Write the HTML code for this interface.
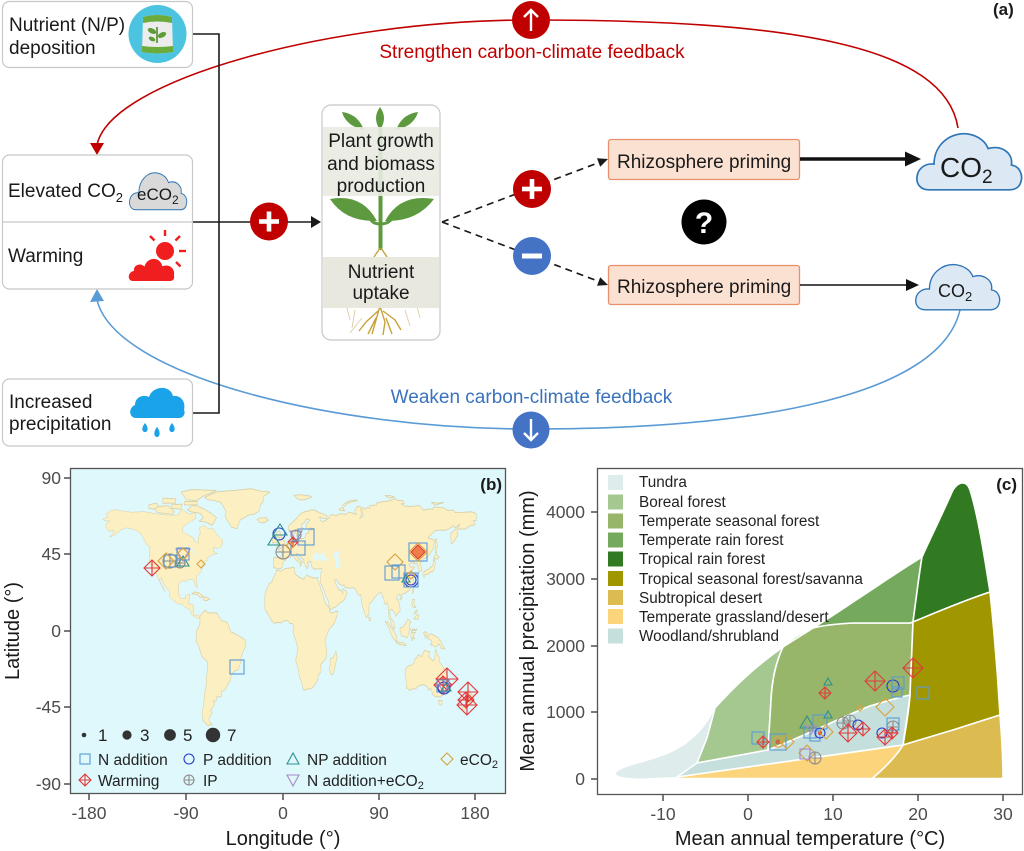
<!DOCTYPE html>
<html><head><meta charset="utf-8"><style>
html,body{margin:0;padding:0;background:#fff}
svg{display:block;font-family:"Liberation Sans",Arial,sans-serif}
.sq,.ci,.tr,.di,.wm,.ip,.dt{fill:none;stroke-width:1.1}
.sq{stroke:#5b9bd5}.ci{stroke:#2639d0}.tr{stroke:#2f8f8f}.di{stroke:#d8a23c}.wm{stroke:#e2393b}.ip{stroke:#8c8c8c}.dt{stroke:#a689c9}
.tk{font-size:17.5px;fill:#4d4d4d}
.lg{font-size:15.5px;fill:#222}
.cl{font-size:15.3px;fill:#222}
</style></head><body>
<svg width="1024" height="851" viewBox="0 0 1024 851" xmlns="http://www.w3.org/2000/svg">
<defs>
<clipPath id="mapclip"><rect x="70.5" y="468.5" width="435" height="325"/></clipPath>
<path id="cloudp" d="M12,60 C4,60 0,54 1,47 C2,39 9,34 17,35 C17,16 33,3 50,6 C60,8 66,14 68,20 C80,16 92,24 90,36 C98,37 101,46 99,52 C98,57 94,60 88,60 Z"/>
</defs>

<!-- ============ PANEL A ============ -->
<!-- feedback curves -->
<path d="M958,128 C945,45 790,20 531,20 C330,20 110,80 97,145" fill="none" stroke="#c00000" stroke-width="1.6"/>
<polygon points="90,143 104,143 97,155" fill="#c00000"/>
<path d="M960,310 C940,395 760,429 531,429 C330,429 115,375 97,300" fill="none" stroke="#5b9bd5" stroke-width="1.6"/>
<polygon points="90,302 104,301 97,289" fill="#5b9bd5"/>

<circle cx="531" cy="20" r="19" fill="#c00000"/>
<path d="M531,31 V10 M524,17 L531,10 L538,17" fill="none" stroke="#fff" stroke-width="2.4"/>
<text x="532" y="58" font-size="19" fill="#c00000" text-anchor="middle">Strengthen carbon-climate feedback</text>
<circle cx="531" cy="430" r="18.5" fill="#4472c4"/>
<path d="M531,419 V440 M524,433 L531,440 L538,433" fill="none" stroke="#fff" stroke-width="2.4"/>
<text x="531.5" y="403" font-size="19" fill="#3a73bd" text-anchor="middle">Weaken carbon-climate feedback</text>

<!-- connectors -->
<polyline points="193,34 219,34 219,413 193,413" fill="none" stroke="#1a1a1a" stroke-width="1.6"/>
<line x1="193" y1="222" x2="313" y2="222" stroke="#1a1a1a" stroke-width="1.6"/>
<polygon points="311,216 321,222 311,228" fill="#1a1a1a"/>
<circle cx="269" cy="221.5" r="19" fill="#c00000"/>
<rect x="259" y="219.2" width="20" height="4.6" fill="#fff"/><rect x="266.7" y="211.5" width="4.6" height="20" fill="#fff"/>

<!-- box 1 -->
<rect x="2.5" y="1.5" width="190" height="66" rx="7" fill="#fff" stroke="#c8c8c8" stroke-width="1.2"/>
<text x="9" y="31" font-size="19" fill="#1a1a1a">Nutrient (N/P)</text>
<text x="9" y="54" font-size="19" fill="#1a1a1a">deposition</text>
<circle cx="157.5" cy="34" r="29" fill="#4cc4e0"/>
<path d="M143,17 Q157,13 172,17 L173,52 Q157,55 142,52 Z" fill="#ececec"/>
<path d="M143,17 Q157,13 172,17 L172,23 Q157,20 143,23 Z" fill="#6bab3c"/>
<path d="M142,46 Q157,48 173,46 L173,52 Q157,55 142,52 Z" fill="#6bab3c"/>
<line x1="157" y1="43" x2="157" y2="27" stroke="#4e8a2c" stroke-width="1.6"/>
<ellipse cx="152" cy="31" rx="4.5" ry="2.5" fill="#5e9c36" transform="rotate(25 152 31)"/>
<ellipse cx="162" cy="35" rx="4.5" ry="2.5" fill="#5e9c36" transform="rotate(-25 162 35)"/>
<ellipse cx="152" cy="39" rx="3.5" ry="2" fill="#5e9c36" transform="rotate(25 152 39)"/>

<!-- box 2 -->
<rect x="2.5" y="155" width="190" height="134" rx="7" fill="#fff" stroke="#c8c8c8" stroke-width="1.2"/>
<line x1="2.5" y1="222" x2="192.5" y2="222" stroke="#c8c8c8" stroke-width="1.2"/>
<text x="8" y="197" font-size="19" fill="#1a1a1a">Elevated CO<tspan font-size="13" dy="5">2</tspan></text>
<use href="#cloudp" transform="translate(129,169) scale(0.58,0.68)" fill="#d9d9d9" stroke="#2e75b6" stroke-width="1.5" vector-effect="non-scaling-stroke"/>
<text x="137" y="200" font-size="17" fill="#1a1a1a">eCO<tspan font-size="12" dy="4">2</tspan></text>
<text x="8" y="262" font-size="19" fill="#1a1a1a">Warming</text>
<!-- sun + cloud -->
<circle cx="165" cy="251" r="9" fill="#f01e1e"/>
<g stroke="#f01e1e" stroke-width="2.4">
<line x1="165" y1="230" x2="165" y2="236"/><line x1="150" y1="236" x2="154.5" y2="240.5"/>
<line x1="180" y1="236" x2="175.5" y2="240.5"/><line x1="179" y1="251" x2="186" y2="251"/>
<line x1="176" y1="262" x2="180.5" y2="266.5"/></g>
<path d="M133,282 C126,282 126,272 133,270 C133,264 140,262 144,265 C147,256 160,255 163,265 C170,263 176,268 175,275 C176,280 173,282 170,282 Z" fill="#f01e1e" stroke="#fff" stroke-width="2"/>

<!-- box 3 -->
<rect x="2.5" y="379" width="190" height="67" rx="7" fill="#fff" stroke="#c8c8c8" stroke-width="1.2"/>
<text x="9" y="408" font-size="19" fill="#1a1a1a">Increased</text>
<text x="9" y="430" font-size="19" fill="#1a1a1a">precipitation</text>
<path d="M136,418 C129,418 128,408 135,405 C135,397 143,394 149,397 C152,386 170,384 173,396 C181,395 186,402 184,410 C186,414 183,418 179,418 Z" fill="#1aa3e8"/>
<path d="M145,423 C149,428 148,432 145,432 C142,432 141,428 145,423 Z M157,427 C161,432 160,437 157,437 C154,437 153,432 157,427 Z M172,423 C176,428 175,432 172,432 C169,432 168,428 172,423 Z" fill="#1aa3e8"/>

<!-- plant box -->
<rect x="322" y="105" width="118" height="235" rx="9" fill="#fff" stroke="#c8c8c8" stroke-width="1.2"/>
<g fill="#5d9a3f">
<path d="M364,130 Q346,126 342,112 Q358,114 364,130 Z"/>
<path d="M380,130 Q372,118 380,107 Q388,118 380,130 Z"/>
<path d="M396,130 Q414,126 418,112 Q402,114 396,130 Z"/>
<path d="M377,221 Q345,222 330,199 Q362,193 377,221 Z"/>
<path d="M385,221 Q417,222 434,199 Q400,193 385,221 Z"/>
<rect x="378.5" y="128" width="4" height="122"/>
</g>
<path d="M368,213 Q370,224 380,224 Q392,224 394,213" fill="none" stroke="#5d9a3f" stroke-width="3"/>
<g stroke="#c8a23a" stroke-width="1.4" fill="none">
<path d="M380,248 L374,257 M381,248 L387,257"/>
<path d="M380,306 L376,320 L372,334 M380,306 L385,322 L383,335 M378,311 L366,322 L359,331 M383,311 L395,320 L401,330 M376,318 L368,334 M386,318 L392,334"/>
</g>
<g stroke="#d8c89a" stroke-width="0.8" fill="none">
<path d="M345,300 L350,320 M415,298 L420,318 M355,310 L352,328 M405,310 L410,326 M362,318 L350,333"/>
</g>
<rect x="323" y="127" width="116" height="69" fill="#e9ebe2" fill-opacity="0.9"/>
<rect x="323" y="257" width="116" height="51" fill="#e7e7dd" fill-opacity="0.95"/>
<g font-size="19" fill="#1a1a1a" text-anchor="middle">
<text x="381" y="147">Plant growth</text>
<text x="381" y="170">and biomass</text>
<text x="381" y="192">production</text>
<text x="381" y="278">Nutrient</text>
<text x="381" y="299">uptake</text>
</g>

<!-- dashed branches -->
<line x1="442" y1="222" x2="599" y2="162.5" stroke="#1a1a1a" stroke-width="1.7" stroke-dasharray="7,5"/>
<polygon points="608,159 597,158.3 600.2,166.7" fill="#1a1a1a"/>
<line x1="442" y1="222" x2="599" y2="281.5" stroke="#1a1a1a" stroke-width="1.7" stroke-dasharray="7,5"/>
<polygon points="608,285 597,285.7 600.2,277.3" fill="#1a1a1a"/>
<circle cx="532" cy="189" r="19" fill="#c00000"/>
<rect x="522" y="186.7" width="20" height="4.6" fill="#fff"/><rect x="529.7" y="179" width="4.6" height="20" fill="#fff"/>
<circle cx="532" cy="256" r="19" fill="#4472c4"/>
<rect x="522" y="253.5" width="20" height="5" fill="#fff"/>

<!-- rhizosphere boxes -->
<rect x="608.5" y="139.5" width="191" height="40" rx="2.5" fill="#fbe1d2" stroke="#e8906a" stroke-width="1.3"/>
<text x="617" y="168" font-size="19" fill="#1a1a1a">Rhizosphere priming</text>
<rect x="608.5" y="265.5" width="191" height="39" rx="2.5" fill="#fbe1d2" stroke="#e8906a" stroke-width="1.3"/>
<text x="617" y="293" font-size="19" fill="#1a1a1a">Rhizosphere priming</text>

<line x1="800" y1="159" x2="908" y2="159" stroke="#111" stroke-width="3.4"/>
<polygon points="905,151.5 921,159 905,166.5" fill="#111"/>
<line x1="800" y1="285" x2="910" y2="285" stroke="#111" stroke-width="1.5"/>
<polygon points="906,279 919,285 906,291" fill="#111"/>

<circle cx="704" cy="222" r="22.5" fill="#000"/>
<text x="704" y="233" font-size="30" font-weight="bold" fill="#fff" text-anchor="middle">?</text>

<!-- CO2 clouds -->
<use href="#cloudp" transform="translate(916,128) scale(1.06,1.03)" fill="#dce9f5" stroke="#2e75b6" stroke-width="1.6" vector-effect="non-scaling-stroke"/>
<text x="940" y="177" font-size="28" fill="#1a1a1a">CO<tspan font-size="19" dy="6">2</tspan></text>
<use href="#cloudp" transform="translate(915,260) scale(0.85,0.83)" fill="#dce9f5" stroke="#2e75b6" stroke-width="1.6" vector-effect="non-scaling-stroke"/>
<text x="938" y="297" font-size="18" fill="#1a1a1a">CO<tspan font-size="13" dy="4">2</tspan></text>

<text x="993" y="15" font-size="17" font-weight="bold" fill="#1a1a1a">(a)</text>

<!-- ============ PANEL B ============ -->
<rect x="70.5" y="468.5" width="435" height="325" fill="#dff8fb"/>
<g clip-path="url(#mapclip)">
<g transform="translate(283,631) scale(1.0733,-1.7044)" fill="#fcefc2" stroke="#d8cfa6" stroke-width="0.5" vector-effect="non-scaling-stroke">
<polygon vector-effect="non-scaling-stroke" points="-168,65.5 -163,67 -165,68.5 -161,70.5 -156,71.3 -150,70.4 -141,69.7 -130,70 -124,69.5 -115,68.5 -108,68 -98,68 -94,71.5 -88,68.5 -82,69.5 -81,66 -87,64 -93,61 -94,58.5 -90,57 -84,55 -82,52.5 -79,51.5 -79,55 -77,57.5 -78,60.5 -73,62 -70,60 -65,60 -62,57 -56,53 -57,50 -60,48.5 -65,49 -64,46 -61,45.5 -66,44.5 -70,43.5 -70,41.6 -74,40.6 -75,38.5 -76,35 -80,32.5 -81,30 -80,27 -80,25.3 -82,27 -83,29.8 -86,30.3 -89,30.2 -90,29 -94,29.6 -97,27.6 -97.5,24 -97,21 -95,19 -91,18.8 -90.5,21 -87,21.5 -87.5,18 -88.5,15.8 -84,15.8 -83.3,12 -83.8,10.8 -82,9 -79.5,9.5 -77.5,8.5 -77.4,7 -78.5,8 -80.4,7.3 -81.8,8.2 -85.8,10 -85.6,11.2 -87.5,13 -91.5,14 -94,16 -96.5,15.7 -100,16.7 -105.5,20 -105.5,23 -109,25.5 -112,28.5 -113,31.3 -114.7,30.5 -114.5,28 -112,26 -110,23 -111.5,24.5 -114,28 -115.5,29.6 -117.2,32.6 -118.5,34 -121,35 -122.5,37.5 -124,40.5 -124.2,43 -124,46.5 -124.7,48.4 -123,49 -127,50.5 -130,54.5 -133,57.5 -137,59 -140,59.8 -146,60.5 -151,59.5 -154,57.5 -158,56 -162,55 -158,57.5 -157.5,59 -162,58.5 -164.8,60.5 -165,62.5 -164,63.5 -161,64.5 -166,64.7"/>
<polygon points="-80,73.5 -72,71 -67,69 -62,66.5 -64,64 -66,62 -72,64 -78,64.5 -74,66.5 -77,69 -86,70 -89,71 -85,73.5"/>
<polygon points="-117,69.5 -103,68.5 -101,70 -107,73.5 -118,73 -119,71"/>
<polygon points="-90,77 -80,76.5 -75,79 -65,81.5 -62,82.5 -85,83 -95,81.5 -92,79"/>
<polygon points="-125,72 -120,71.5 -116,73 -118,75 -125,74"/>
<polygon points="-92,74 -80,74 -80,76 -92,76"/>
<polygon points="-104,72 -95,71.5 -94,74.5 -104,74"/>
<polygon points="-112,75 -100,75 -100,77.5 -112,78"/>
<polygon points="-73,78.5 -66,80.5 -60,81.8 -45,82.5 -30,83.5 -20,82 -12,81.5 -18,79 -18,76.5 -21,74 -22,70.5 -27,68.5 -32,68 -40,65 -43,60 -48,61 -51,64 -54,67 -53,70 -55,72.5 -58,75.5 -64,76.5 -70,77"/>
<polygon points="-24,65.5 -22,66.3 -16,66.5 -13.5,65 -18,63.4 -22,63.8"/>
<polygon points="-85,21.8 -82,23 -78,22.3 -74.2,20.2 -77.5,19.8 -80,21.5"/>
<polygon points="-74.4,19.8 -71,19.9 -68.4,18.6 -71.5,17.7 -74.4,18.3"/>
<polygon points="-77.4,8.6 -75.5,10.5 -72,12.3 -71.3,11 -68,10.5 -63,10.7 -61,10.3 -60,8.5 -57,6 -53,5.5 -51,4 -50,1.8 -48.5,-0.5 -45,-1.5 -41,-3 -38.5,-3.8 -35.2,-5.5 -35,-9 -37.5,-12.5 -39,-15 -39.3,-18 -40.5,-20.5 -42,-22.9 -44.6,-23.3 -48.3,-25.5 -48.7,-28.5 -51,-31 -53.5,-34 -55,-35 -57.3,-35.5 -57.5,-38.5 -62,-38.8 -62.3,-41 -65,-41.2 -63.5,-42.5 -65.5,-45 -67.5,-46.5 -66,-48 -68.5,-50.5 -69,-52 -68.3,-53.5 -66,-54.8 -68.5,-55.5 -71,-55 -74.5,-52.5 -75.5,-48 -74,-44 -73.5,-40 -73.2,-37 -71.5,-32 -71.4,-28 -70.5,-23 -70.2,-18.3 -72,-17 -75.5,-15 -77.5,-11 -79.5,-7.5 -81.2,-6 -80.3,-3.4 -80.9,-1 -80,1 -78.8,1.8 -77.5,4 -77.3,7"/>
<polygon points="-17,21 -17,14.7 -16.6,12 -15,11 -13.2,8.9 -11.4,6.8 -8,4.4 -5,5.1 -2,4.8 2,6.2 5,5.8 6.5,4.3 8.5,4.5 9.8,3 9.5,1 9.3,-1 11,-3.7 12.2,-6 13.2,-9 13.5,-12.5 11.8,-17 14.4,-22.8 15.2,-26.8 16.7,-28.8 18.4,-32.5 18.4,-34 20,-34.8 22.5,-34 25.7,-34 28,-32.7 30.2,-31 32.5,-28.6 32.7,-26 35.2,-24 35.6,-22 34.8,-19.8 36.5,-18.7 39.5,-16.5 40.6,-14.5 40.6,-10.5 39.3,-7 39.2,-4.7 40.9,-2.5 42,-0.3 44,1.8 46,3 48,4.8 49.8,8 51.1,11.8 48.5,11.3 45,10.5 43.3,11.8 42.8,14 40,15.7 38.5,18 37.3,21 36.6,22.5 35.5,24 34.5,26.5 33.8,27.5 32.4,30 32.3,31.3 29.5,31 25,31.8 22,32.8 20,31 19,30.3 15.5,31.5 11.5,33.2 10.8,35 11,37 9.5,37.3 7,37 4,36.8 1,36.3 -1.5,35.2 -2.2,35.1 -5.9,35.8 -6.5,34 -9.6,30.5 -10,29 -13,27.6 -14.5,25.2 -16,23.5"/>
<polygon points="44,-25 45.3,-25.6 47,-25 48.8,-20 50,-16 50.5,-15.2 49.3,-12 48,-13.5 47,-15.5 44.3,-16.2 44,-19 43.4,-22"/>
<polygon points="-9,37 -9,43 -2,43.4 -1.2,46 -4.5,48 -1.5,48.8 1.5,50.5 4,51.5 5,53 8.5,53.6 8.5,55.5 8,57 10.5,57.6 10,55 11,54 14,54 19.7,54.4 21,55.3 21,57 23,57.5 24.5,57.5 23.5,59 28,59.5 29.5,60.2 26,60.4 23,59.8 21.5,60.7 21.5,62.5 25,65 22,65.8 19.8,63.6 17.5,62.5 17,61 18.8,60.1 16.8,58.7 16.4,57 14.5,56 13,55.4 12,57.5 11,59 8.5,58.2 5.5,58.6 5,61.5 8.5,63.5 12.5,66 15,68 19,69.8 23,70.3 26,71 28.5,71 31.3,70.5 33.8,69.3 37,69 41,67.5 41,66 38,66 34,66.8 35,65 37,64 40,65 43,66.5 44,68 46,68.3 49,67.7 54,68.9 59,68.4 61,69.8 65,69.2 68.5,68.2 67,69.5 67,71 69,73 72.5,72.8 72.5,70.5 73.5,68.5 71.5,66.3 74,67 75,68 74,69.2 74,70.5 73,71.5 75,72.5 76,71.2 78,72.4 81,72 80.5,73.5 87,74 87,75 92,75.8 99,76.4 104.5,77.7 107,76.6 112,76.6 113,75 110,74.5 113.5,73.3 119,73.1 127,73.6 129,72.5 131,70.8 136,71.6 140,71.5 140,72.8 150,72.2 153,70.8 159,70.9 160.5,69.5 168,69.6 170.5,69.8 176,69.9 180,68.9 180,65 177.5,64.6 179,62.3 174.5,61.8 170.3,59.9 166,59.8 163.5,59.9 162,58 163,56 161.7,55.3 160,53.2 158,51.5 156.8,51 156,57 160,59.3 163.7,61.1 164.5,62.6 160,60.5 159,61.8 154.2,59.8 151,59 148.5,59.2 142.2,59 138.9,57.1 135.1,54.7 138.5,54 141.3,53.1 140.5,50 140.1,48.4 138,46.3 135.5,44 133,42.8 130.8,42.3 129.7,40.9 128,40 127.5,39.3 129.2,37.4 129.5,35.6 128,35 126.5,34.4 126.6,35.7 126.2,37.7 125,38.5 125,39.5 124.3,39.9 122,39 121.4,39.8 122.2,40.4 121,40.8 119.5,39.9 118,39.2 117.5,38.7 119,37.4 120.8,37.9 122.5,37.3 119.7,35.6 120.2,34.4 121.5,32 121.9,30.9 121.5,30.1 122,29.8 121,28 119.6,25.7 117.3,23.6 114.8,22.7 113.2,22.1 110.8,21.4 110.4,20.3 109.6,21 108,21.6 106.5,20.5 105.7,19 107.4,18 108.7,15.3 109.2,11.7 107.2,10.4 105.2,8.6 104.8,10 103,11.2 102.3,12.3 100.9,12.8 100,12.3 99.2,10.9 99.9,9.2 100.5,7.4 102.2,6.2 103.4,4.9 103.5,2.8 104.2,1.6 103.5,1.2 101.4,2.8 100.4,5.3 99.7,6.8 98.5,8.4 98.3,9.9 98.7,11.4 98.2,13.6 97.7,15.5 97.2,16.9 95.4,15.7 94.2,16 94.3,18.2 93.1,19.9 92,21.7 91.4,22.8 90.5,22.8 89.5,21.9 88.2,21.7 87,20.8 85.1,19.5 83.9,18.3 82.2,16.8 80.3,15.9 80.2,13.8 79.9,10.4 79.2,9.2 77.5,8 76.1,10.3 74.8,12.8 73.5,16 72.8,19.2 72.6,21.4 70.5,20.9 69.2,22.1 68.2,23.7 67,24.7 66.4,25.4 61.5,25.1 57.4,25.7 57,27 55.7,27 54.7,26.5 52.5,27.6 50.9,28.8 50.1,30.1 48.6,29.9 48.2,29.5 48.8,27.7 50.1,26.7 50.5,25.3 51.6,25.2 51.8,24 54,24.1 55.7,22 55.9,24.9 56.8,24.2 58.7,23.6 59.8,22.5 58.5,20.4 57.7,19 56.5,18 55.3,17.3 52.3,16.2 51.2,15.2 48.7,14 45.9,13.3 45,12.8 43.5,12.6 43,14.5 42.7,15.7 42.3,17.3 41,19.3 39.2,21.5 38.5,23.7 37.2,25 35.6,27.4 34.7,28.5 34.9,29.5 34.6,31.5 35.1,33.1 35.9,35.4 36,36.6 34.7,36.8 32.5,36.1 30.6,36.7 29.7,36.1 27.6,37 26.3,38.2 26.2,40.1 26,40.9 23.7,40.7 23.3,39.96 22.6,40.3 23.4,39.2 24,38.2 23.1,37.9 22.8,37.3 22.5,36.4 21.3,37.6 20.2,39.3 19.4,40.3 19.5,41.7 17.5,42.8 16,43.5 15,44.5 14.3,45.2 13.7,45.5 12.3,45.4 12.4,44.6 13.5,43.6 14,42.8 15.1,41.96 16.2,41.7 17.5,40.9 18.5,40.2 17.7,40.3 16.5,39.8 17.1,38.9 16.1,38 15.7,38 16.1,39 15.7,40 14.1,40.8 12.1,41.7 10.5,42.9 10.2,43.9 8.9,44.4 7.4,43.7 6.5,43.1 4.6,43.4 3.1,43.1 3,41.9 0.8,41 0.1,40.1 -0.3,39.3 -0.7,37.6 -2.1,36.7 -4.4,36.7 -5.4,35.9 -6.5,36.9 -7.5,37.1"/>
<polygon points="79.7,8 81.8,7.5 81.5,6.2 80.3,6"/>
<polygon points="130.2,33.5 131.5,31.3 131.9,33 135,33.5 135.8,33.5 137,34.6 139,34.8 140.8,35.7 141,37.9 141.9,39.2 141.4,41.3 140,40.8 139.8,39 138.8,37.8 136.8,37.2 136.5,36.5 133,35.5 131,34.4"/>
<polygon points="140,41.5 141.5,42.5 143.5,42 145.5,43.3 144,44.2 141.9,45.4 141.2,43.3 140.4,43.2"/>
<polygon points="120.2,22.8 121,22 121.9,25 121.5,25.3 120.7,24.5"/>
<polygon points="108.7,19 109.5,18.2 111,19.7 110.2,20.1"/>
<polygon points="120.5,18.5 122.3,18.5 122,16 124,13.7 121.8,13.9 120.6,14.4 120,16"/>
<polygon points="122,7 126,7 126.5,9 125.3,9.8 123.5,8.6"/>
<polygon points="122,10 125,11 125,12.5 123,11.5"/>
<polygon points="109,1.5 109.7,2 111,2 113,3.2 115,5 116.2,6.9 117.6,6.4 119,5.1 118.4,4.8 118,3.3 117.9,1.8 119,1 117.5,0.4 117,-1 116.5,-2.5 116,-3.8 114.8,-4 113.8,-3.4 111.7,-3 110.2,-2.9 110,-1.5 109.1,0"/>
<polygon points="95.3,5.5 97.5,5.2 100.6,2.1 103,0.5 104,-1 106,-3.1 106,-5.9 104.7,-5.9 102.6,-4.2 101.4,-2.8 100.1,-0.7 98.6,1.8 97.7,2.5"/>
<polygon points="105.4,-6.9 106.4,-6 108.6,-6.8 110.5,-6.9 112.6,-6.9 114.5,-7.8 114.6,-8.8 113.5,-8.4 110.6,-8.1 108.3,-7.8 106.5,-7.4"/>
<polygon points="120.9,1.3 124.4,0.4 125,1.6 123.6,0.2 121,0.5 120.2,0 120,-1 121.5,-1 123.2,-0.9 121.5,-2 122.5,-4.5 121.5,-4.6 120.9,-3.6 120.4,-5.5 119.4,-5.4 119.5,-3.5 118.8,-2.7 119.8,0.1"/>
<polygon points="131,-1 132.5,-0.4 134,-0.8 135,-3.4 137.4,-1.5 141,-2.6 144.6,-3.9 146,-5.5 147.6,-6.1 147.9,-8 150.8,-10.3 150,-10.6 147,-10 146,-8 144.7,-7.6 143,-9.3 141,-9.1 139.1,-8.1 138,-8.4 137.6,-7.6 138.9,-6.8 138.1,-5.4 135.2,-4.5 133.7,-3.5 132.8,-4.1 132,-2.8 133.1,-2.5 132.2,-2.2 131,-1.5"/>
<polygon points="114.2,-22 113.6,-24.5 114.2,-26.3 114.9,-29.5 115,-33.5 115.7,-33.3 118,-35 120,-34 123.7,-33.9 126,-32.3 129.5,-31.6 131.3,-31.5 134.2,-32.6 135.9,-34.9 137.5,-33.6 138.2,-34.4 139.6,-37.3 140.6,-38 143.2,-38.8 144.5,-38.1 146.3,-39 147.4,-38.2 150,-37.4 150.8,-35 151.8,-33 153.1,-31 153.6,-28.5 153.1,-26 151.6,-24 150.7,-22.4 149.1,-21.2 148,-19.9 146.4,-19 145.6,-16.8 145.3,-15 143.6,-14 143.5,-12.8 142.5,-10.7 141.6,-12.9 141.7,-15 141.1,-16.8 139.3,-17.4 137.7,-16.2 135.5,-14.7 136.3,-13.3 136.8,-12 134.7,-11.9 132.6,-11.6 131.8,-11.3 130.2,-13.1 129.4,-14.9 128,-14.7 126.9,-13.8 125.2,-14.7 124.4,-16 123,-16.4 122.2,-18.2 121,-19.5 118.8,-20.3 116.7,-20.6 114.6,-21.8"/>
<polygon points="144.7,-40.7 148.3,-40.9 148,-43 146.9,-43.6 145.4,-42.7"/>
<polygon points="172.6,-34.5 174.3,-35.3 175.8,-37.6 178.3,-37.6 177.4,-39 176,-41.3 174.6,-41.3 175.2,-40.5 174.6,-39.8 173.9,-39.5 174.6,-38.8 174.7,-37.5 174.3,-36.7"/>
<polygon points="172.8,-40.5 174.3,-41.3 173.8,-42.8 172.7,-43.5 171,-44.9 169.3,-46.6 167,-46.2 166.7,-45.1 168.3,-44.1 170.6,-42.9 171.6,-41.7"/>
<polygon points="-5.7,50 1.3,51 1.7,52.8 0.2,53.4 -0.4,54.5 -1.7,55.5 -2,56 -3.1,58.7 -5,58.6 -6.2,56.8 -5.6,55.3 -3,54.9 -3.6,54.6 -3.4,53.7 -4.7,53.3 -4.1,51.6 -5.3,51.6"/>
<polygon points="-6.2,53.9 -6,52.2 -9.7,51.5 -10,53.5 -8.3,55.1 -6.2,55.3"/>
<polygon points="10.4,79.6 16.6,80 22,79.4 25,79.3 26.6,78.5 22.5,77.5 18,76.9 14.5,77.2 12.5,78"/>
<polygon points="52,71.5 55.5,72.4 55.6,74 61.4,76.3 68,76.9 68.9,76.5 60,75 57,73 56,71.4 58,70.5 53,70.8"/>
<polygon points="142,46 143.5,46.2 143.2,49 144,49.5 143,53.5 142.5,54.3 141.7,53.3 142,51 141.6,48"/>
<polygon points="95,79.5 100,79.5 104,78.5 99,78"/>
<polygon points="138,75.5 145,75 150,75.5 142,73.8"/>
</g>
<g transform="translate(283,631) scale(1.0733,-1.7044)" fill="#dff8fb" stroke="none">
<polygon points="28,41.3 28,43.5 29.7,45.5 31,46.6 33.5,44.5 36,45.2 38,47 39.5,47 37.5,44.7 40,43.5 41.5,41.5 38,40.9 35,42 33,42 31,41.2"/>
<polygon points="47,45 49,46.5 53,46.8 53,45 51,44.5 52.5,41.8 53,40 53.8,37.5 51,36.7 49,37.6 49.5,40.3 48.5,41.8 47.5,43"/>
<polygon points="-88,48 -84,46.5 -80,43.5 -79,43.8 -82,45.5 -84,48.5"/>
</g>

<!-- map markers -->
<path class="wm" d="M152,560L160,568L152,576L144,568ZM152,560V576M144,568H160"/>
<circle class="ip" cx="170" cy="561" r="7"/><path class="ip" d="M163,561H177M170,554V568"/>
<rect class="sq" x="164" y="555" width="12" height="12"/>
<path class="di" d="M166,553L174,561L166,569L158,561Z"/>
<circle class="ip" cx="180" cy="563" r="5"/><path class="ip" d="M175,563H185M180,558V568"/>
<path class="tr" d="M183,556L189,566L177,566Z"/>
<path class="dt" d="M176,549L190,549L183,561Z"/>
<rect class="sq" x="177" y="548" width="12" height="12"/>
<path class="di" d="M183,548L189,554L183,560L177,554Z"/>
<path class="di" d="M201,560L205,564L201,568L197,564Z"/>
<circle class="ci" cx="279" cy="534" r="6"/>
<path class="tr" d="M280,524L287,535L273,535Z"/>
<path class="tr" d="M274,535L280,545L268,545Z"/>
<path class="dt" d="M290,531L302,531L296,541Z"/>
<circle class="ip" cx="296" cy="535" r="5"/>
<rect class="sq" x="298" y="529" width="16" height="16"/>
<path class="wm" d="M293,537L298,542L293,547L288,542ZM293,537V547M288,542H298"/>
<rect class="sq" x="291" y="541" width="14" height="14"/>
<circle class="ip" cx="283" cy="552" r="7"/><path class="ip" d="M276,552H290M283,545V559"/>
<path class="di" d="M290,542L294,546L290,550L286,546Z"/>
<rect class="sq" x="409" y="543" width="18" height="18"/>
<path class="di" d="M418,543L427,552L418,561L409,552Z"/>
<path d="M418,545L425,552L418,559L411,552Z" fill="#e8602c" fill-opacity=".8" stroke="#e2393b"/>
<path class="di" d="M395,554L403,562L395,570L387,562Z"/>
<rect class="sq" x="385" y="566" width="14" height="14"/>
<rect class="sq" x="392" y="565" width="13" height="13"/>
<circle class="ci" cx="411" cy="580" r="7"/>
<circle class="ci" cx="411" cy="580" r="5"/>
<rect class="sq" x="404" y="573" width="14" height="14"/>
<path class="tr" d="M406,575L410,582L402,582Z"/>
<path class="di" d="M411,571L415,575L411,579L407,575Z"/>
<rect class="sq" x="230" y="660" width="14" height="14"/>
<path class="wm" d="M447,668L458,679L447,690L436,679ZM447,668V690M436,679H458"/>
<path class="wm" d="M443,676L452,685L443,694L434,685ZM443,676V694M434,685H452"/>
<rect class="sq" x="437" y="680" width="12" height="12"/>
<circle class="ci" cx="444" cy="688" r="6"/>
<path class="dt" d="M438,684L450,684L444,692Z"/>
<path class="tr" d="M446,683L451,691L441,691Z"/>
<path class="wm" d="M468,682L478,692L468,702L458,692ZM468,682V702M458,692H478"/>
<path class="wm" d="M466,692L474,700L466,708L458,700ZM466,692V708M458,700H474"/>
<path class="wm" d="M467,695L477,705L467,715L457,705ZM467,695V715M457,705H477"/>

<!-- map legend -->
<circle cx="84" cy="735" r="2.3" fill="#333"/><text x="98" y="741" font-size="17" fill="#222">1</text>
<circle cx="127" cy="735" r="4.6" fill="#333"/><text x="140" y="741" font-size="17" fill="#222">3</text>
<circle cx="170" cy="735" r="5.9" fill="#333"/><text x="183" y="741" font-size="17" fill="#222">5</text>
<circle cx="213" cy="735" r="7.2" fill="#333"/><text x="227" y="741" font-size="17" fill="#222">7</text>
<rect class="sq" x="80" y="754" width="10" height="10"/><text class="lg" x="98" y="765">N addition</text>
<circle class="ci" cx="189" cy="759" r="5"/><text class="lg" x="203" y="765">P addition</text>
<path class="tr" d="M293,753L299,764L287,764Z"/><text class="lg" x="307" y="765">NP addition</text>
<path class="di" d="M447,753L453,759L447,765L441,759Z"/><text class="lg" x="460" y="765">eCO<tspan font-size="11" dy="3">2</tspan></text>
<path class="wm" d="M85,774L91,780L85,786L79,780ZM85,774V786M79,780H91"/><text class="lg" x="98" y="786">Warming</text>
<circle class="ip" cx="189" cy="780" r="5"/><path class="ip" d="M184,780H194M189,775V785"/><text class="lg" x="203" y="786">IP</text>
<path class="dt" d="M287,775L299,775L293,786Z"/><text class="lg" x="307" y="786">N addition+eCO<tspan font-size="11" dy="3">2</tspan></text>
</g>
<rect x="70.5" y="468.5" width="435" height="325" fill="none" stroke="#555" stroke-width="1.3"/>
<text x="502" y="490" font-size="17" font-weight="bold" fill="#1a1a1a" text-anchor="end">(b)</text>

<!-- b axes -->
<g stroke="#333" stroke-width="1.3">
<line x1="64" y1="478" x2="70" y2="478"/><line x1="64" y1="554" x2="70" y2="554"/><line x1="64" y1="631" x2="70" y2="631"/><line x1="64" y1="707" x2="70" y2="707"/><line x1="64" y1="784" x2="70" y2="784"/>
<line x1="89" y1="794" x2="89" y2="800"/><line x1="186" y1="794" x2="186" y2="800"/><line x1="283" y1="794" x2="283" y2="800"/><line x1="379" y1="794" x2="379" y2="800"/><line x1="475" y1="794" x2="475" y2="800"/>
</g>
<g class="tk" text-anchor="end">
<text class="tk" x="61" y="484">90</text><text class="tk" x="61" y="560">45</text><text class="tk" x="61" y="637">0</text><text class="tk" x="61" y="713">-45</text><text class="tk" x="61" y="790">-90</text>
</g>
<g text-anchor="middle">
<text class="tk" x="89" y="819">-180</text><text class="tk" x="186" y="819">-90</text><text class="tk" x="283" y="819">0</text><text class="tk" x="379" y="819">90</text><text class="tk" x="475" y="819">180</text>
</g>
<text x="283" y="845" font-size="20" fill="#1a1a1a" text-anchor="middle">Longitude (°)</text>
<text transform="translate(19,631) rotate(-90)" font-size="20" fill="#1a1a1a" text-anchor="middle">Latitude (°)</text>

<!-- ============ PANEL C ============ -->
<rect x="597.5" y="468.5" width="425" height="326" fill="#fff"/>
<path d="M617,772 C622,766 650,762 672,752 C692,742 706,728 715,708 L707,738 L697,763 L677,777 L640,778.5 C625,778.5 612,776 617,772 Z" fill="#dfecec"/>
<g stroke="#fff" stroke-width="1.6" stroke-linejoin="round">
<path d="M715,708 C733,688 753,668 783,647 C776,662 772,680 771,700 L768,750 L697,763 L707,738 Z" fill="#a5c790"/>
<path d="M783,647 C790,640 800,633 813,628 C820,626 835,624 853,623 L910,623 L913,622 C912,645 911,670 910,695 C900,697 890,700 870,706 C840,718 800,738 768,750 L771,700 C772,680 776,662 783,647 Z" fill="#97b669"/>
<path d="M783,647 C800,636 830,618 853,602 C875,588 900,570 922,557 C919,575 916,600 913,622 L910,623 L853,623 C835,624 820,626 813,628 C800,633 790,640 783,647 Z" fill="#75a95e"/>
<path d="M913,622 C916,600 919,575 922,557 C928,543 942,515 952,492 C956,483 966,478 970,490 C978,515 985,560 990,592 C960,602 930,615 913,622 Z" fill="#317a22"/>
<path d="M903,745 C906,728 909,710 910,695 C911,670 912,645 913,622 C930,615 960,602 990,592 C994,630 998,680 1000,715 L953,730 Z" fill="#a09700"/>
<path d="M872,778.5 C885,768 897,755 903,745 L953,730 L1000,715 C1002,740 1003,760 1003,778.5 Z" fill="#dcbb50"/>
<path d="M677,777 L903,745 C897,755 885,768 872,778.5 L677,778.5 Z" fill="#fbd47c"/>
<path d="M677,777 L697,763 L768,750 C800,738 840,718 870,706 C890,700 900,697 910,695 C908,712 905,730 903,745 Z" fill="#c5dfdd"/>
</g>

<!-- c legend -->
<rect x="608" y="475" width="15" height="15" fill="#dfecec"/><text class="cl" x="639" y="487">Tundra</text>
<rect x="608" y="494.5" width="15" height="15" fill="#a5c790"/><text class="cl" x="639" y="507">Boreal forest</text>
<rect x="608" y="513.5" width="15" height="15" fill="#97b669"/><text class="cl" x="639" y="526">Temperate seasonal forest</text>
<rect x="608" y="532.5" width="15" height="15" fill="#75a95e"/><text class="cl" x="639" y="545">Temperate rain forest</text>
<rect x="608" y="551.5" width="15" height="15" fill="#317a22"/><text class="cl" x="639" y="564">Tropical rain forest</text>
<rect x="608" y="571" width="15" height="15" fill="#a09700"/><text class="cl" x="639" y="584">Tropical seasonal forest/savanna</text>
<rect x="608" y="590" width="15" height="15" fill="#dcbb50"/><text class="cl" x="639" y="603">Subtropical desert</text>
<rect x="608" y="609" width="15" height="15" fill="#fbd47c"/><text class="cl" x="639" y="622">Temperate grassland/desert</text>
<rect x="608" y="628.5" width="15" height="15" fill="#c5dfdd"/><text class="cl" x="639" y="641">Woodland/shrubland</text>

<!-- c markers -->
<path class="wm" d="M913,658L923,668L913,678L903,668ZM913,658V678M903,668H923"/>
<path class="wm" d="M875,671L885,681L875,691L865,681ZM875,671V691M865,681H885"/>
<path class="wm" d="M825,687L831,693L825,699L819,693ZM825,687V699M819,693H831"/>
<path class="tr" d="M828,678L832,685L824,685Z"/>
<circle class="ci" cx="893" cy="686" r="6"/>
<rect class="sq" x="892" y="677" width="12" height="12"/>
<rect class="sq" x="892" y="687" width="10" height="10"/>
<rect class="sq" x="917" y="687" width="12" height="12"/>
<path class="di" d="M885,698L894,707L885,716L876,707Z"/>
<path class="di" d="M860,705L863,708L860,711L857,708Z"/>
<path class="tr" d="M828,711L832,718L824,718Z"/>
<rect class="sq" x="752" y="732" width="12" height="12"/>
<path class="wm" d="M763,736L769,742L763,748L757,742ZM763,736V748M757,742H769"/>
<rect class="sq" x="770" y="734" width="16" height="16"/>
<circle cx="778" cy="742" r="5" fill="none" stroke="#e8a040" stroke-width="1.1"/>
<circle cx="778" cy="742" r="2.5" fill="#e2393b" fill-opacity=".6"/>
<path class="di" d="M787,735L794,742L787,749L780,742Z"/>
<path class="di" d="M807,745L815,753L807,761L799,753Z"/>
<circle class="ip" cx="815" cy="758" r="6"/><path class="ip" d="M809,758H821M815,752V764"/>
<rect class="dt" x="800" y="749" width="10" height="10"/>
<path class="tr" d="M807,716L814,728L800,728Z"/>
<rect class="sq" x="813" y="715" width="14" height="14"/>
<rect class="sq" x="804" y="726" width="12" height="12"/>
<rect class="sq" x="810" y="731" width="10" height="10"/>
<path class="dt" d="M806,726L816,726L811,734Z"/>
<circle class="ci" cx="820" cy="733" r="5"/>
<circle cx="820" cy="733" r="2" fill="#e2393b"/>
<path class="di" d="M826,725L833,732L826,739L819,732Z"/>
<circle class="ip" cx="843" cy="723" r="6"/><path class="ip" d="M837,723H849M843,717V729"/>
<circle class="ip" cx="850" cy="721" r="6"/><path class="ip" d="M844,721H856M850,715V727"/>
<path class="wm" d="M848,724L857,733L848,742L839,733ZM848,724V742M839,733H857"/>
<circle class="ci" cx="858" cy="725" r="5"/>
<path class="wm" d="M863,722L870,729L863,736L856,729ZM863,722V736M856,729H870"/>
<circle class="ci" cx="882" cy="733" r="5"/>
<path class="wm" d="M885,729L893,737L885,745L877,737ZM885,729V745M877,737H893"/>
<circle class="ip" cx="893" cy="727" r="6"/><path class="ip" d="M887,727H899M893,721V733"/>
<rect class="sq" x="887" y="718" width="12" height="12"/>
<path class="wm" d="M892,727L898,733L892,739L886,733ZM892,727V739M886,733H898"/>

<rect x="597.5" y="468.5" width="425" height="326" fill="none" stroke="#555" stroke-width="1.3"/>
<text x="1017" y="490" font-size="17" font-weight="bold" fill="#1a1a1a" text-anchor="end">(c)</text>

<g stroke="#333" stroke-width="1.3">
<line x1="591" y1="512" x2="597" y2="512"/><line x1="591" y1="579" x2="597" y2="579"/><line x1="591" y1="646" x2="597" y2="646"/><line x1="591" y1="712" x2="597" y2="712"/><line x1="591" y1="779" x2="597" y2="779"/>
<line x1="663" y1="795" x2="663" y2="801"/><line x1="748" y1="795" x2="748" y2="801"/><line x1="833" y1="795" x2="833" y2="801"/><line x1="918" y1="795" x2="918" y2="801"/><line x1="1003" y1="795" x2="1003" y2="801"/>
</g>
<g text-anchor="end">
<text class="tk" x="585" y="518" font-size="18">4000</text><text class="tk" x="585" y="585">3000</text><text class="tk" x="585" y="652">2000</text><text class="tk" x="585" y="718">1000</text><text class="tk" x="585" y="785">0</text>
</g>
<g text-anchor="middle">
<text class="tk" x="663" y="820">-10</text><text class="tk" x="748" y="820">0</text><text class="tk" x="833" y="820">10</text><text class="tk" x="918" y="820">20</text><text class="tk" x="1003" y="820">30</text>
</g>
<text x="810" y="845" font-size="20" fill="#1a1a1a" text-anchor="middle">Mean annual temperature (°C)</text>
<text transform="translate(534,631) rotate(-90)" font-size="20" fill="#1a1a1a" text-anchor="middle">Mean annual precipitation (mm)</text>
</svg>
</body></html>
